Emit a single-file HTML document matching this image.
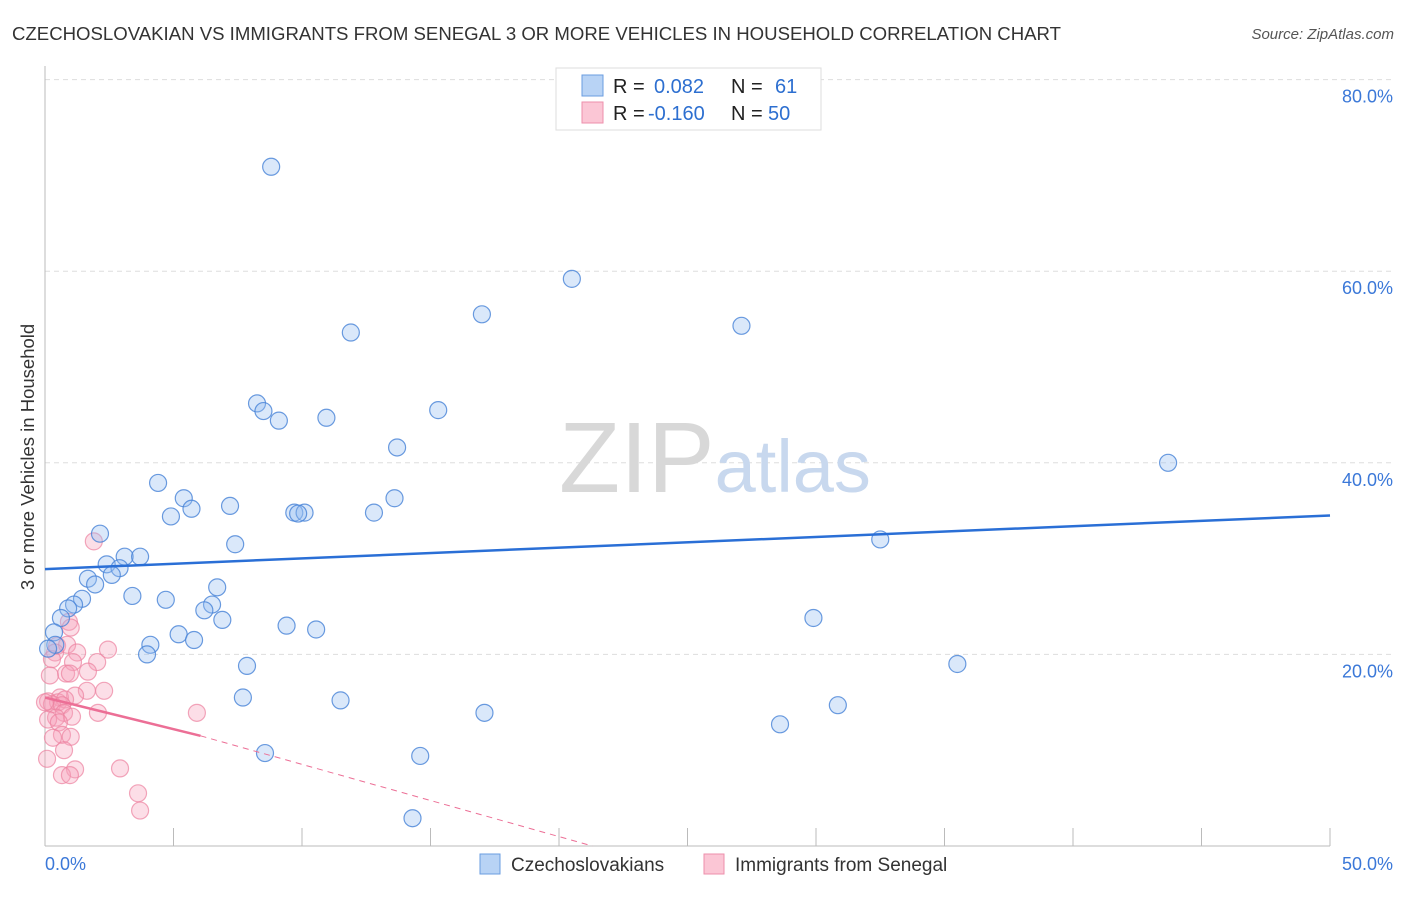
<!DOCTYPE html>
<html><head><meta charset="utf-8"><style>
body{margin:0;background:#fff;font-family:"Liberation Sans",sans-serif;}
svg text{font-family:"Liberation Sans",sans-serif;}
</style></head><body>
<svg id="chart" width="1406" height="892">
<text x="12" y="40" font-size="18.6" fill="#333">CZECHOSLOVAKIAN VS IMMIGRANTS FROM SENEGAL 3 OR MORE VEHICLES IN HOUSEHOLD CORRELATION CHART</text>
<text x="1394" y="39" font-size="15" fill="#555" text-anchor="end" font-style="italic">Source: ZipAtlas.com</text>
<text x="0" y="0" transform="translate(34,457) rotate(-90)" font-size="18.5" fill="#333" text-anchor="middle">3 or more Vehicles in Household</text>
<g id="grid"></g>
<text x="715" y="492" font-size="100" fill="#ddd" text-anchor="middle" font-family="Liberation Serif"><tspan fill="#d8d8d8">ZIP</tspan><tspan fill="#c8d8ee" font-family="Liberation Sans" font-size="74">atlas</tspan></text>
<g id="pts"></g>
<g id="lines"></g>
<g>
<rect x="556" y="68" width="265" height="62" fill="#fff" stroke="#ddd"/>
<rect x="582" y="75" width="21" height="21" fill="#b8d3f5" stroke="#6a9de0"/>
<rect x="582" y="102" width="21" height="21" fill="#fbc6d5" stroke="#ee8fab"/>
<text x="613" y="93" font-size="20" fill="#222">R = <tspan x="654" fill="#2d6fd0">0.082</tspan><tspan x="731" fill="#222">N = </tspan><tspan x="775" fill="#2d6fd0">61</tspan></text>
<text x="613" y="120" font-size="20" fill="#222">R = <tspan x="648" fill="#2d6fd0">-0.160</tspan><tspan x="731" fill="#222">N = </tspan><tspan x="768" fill="#2d6fd0">50</tspan></text>
</g>
<g>
<rect x="480" y="854" width="20" height="20" fill="#b8d3f5" stroke="#6a9de0"/>
<text x="511" y="871" font-size="19" fill="#333">Czechoslovakians</text>
<rect x="704" y="854" width="20" height="20" fill="#fbc6d5" stroke="#ee8fab"/>
<text x="735" y="871" font-size="19" fill="#333">Immigrants from Senegal</text>
</g>
<text x="45" y="870" font-size="18" fill="#3b78d8">0.0%</text>
<text x="1393" y="870" font-size="18" fill="#3b78d8" text-anchor="end">50.0%</text>
</svg>
<script>
const yTicks=[20,40,60,80];
const xTicks=[0,5,10,15,20,25,30,35,40,45,50];
const blueX=[8.8,20.5,17.0,27.1,11.9,8.25,8.5,9.1,10.95,15.3,13.7,43.7,4.4,5.4,5.7,4.9,7.2,9.7,10.1,9.85,12.8,13.6,2.14,7.4,32.5,3.1,3.7,2.4,2.9,2.6,1.67,1.95,3.4,1.44,4.7,1.13,0.9,6.7,6.5,6.2,6.9,0.62,29.9,9.4,10.55,5.2,5.8,4.1,0.35,3.97,0.4,0.12,35.5,7.86,7.7,11.5,30.85,17.1,28.6,8.56,14.6,14.3];
const blueY=[70.9,59.2,55.5,54.3,53.6,46.2,45.4,44.4,44.7,45.5,41.6,40.0,37.9,36.3,35.2,34.4,35.5,34.8,34.8,34.7,34.8,36.3,32.6,31.5,32.0,30.2,30.2,29.4,29.0,28.3,27.9,27.3,26.1,25.8,25.7,25.2,24.8,27.0,25.2,24.6,23.6,23.8,23.8,23.0,22.6,22.1,21.5,21.0,22.3,20.0,21.0,20.6,19.0,18.8,15.5,15.2,14.7,13.9,12.7,9.7,9.4,2.9];
const pinkX=[1.9,0.93,1.0,0.47,0.86,0.39,1.25,2.45,0.27,1.09,2.03,0.82,1.67,0.97,0.19,2.3,1.63,1.17,0.58,0.12,0.51,0.78,0.27,0.66,0,0.74,2.06,0.43,1.05,0.12,0.54,5.91,0.66,1.0,0.31,0.74,0.08,2.92,1.17,0.66,0.97,3.62,3.7];
const pinkY=[31.8,23.4,22.8,20.9,21.0,20.2,20.2,20.5,19.5,19.2,19.2,18.0,18.2,18.0,17.8,16.2,16.2,15.7,15.5,15.1,15.0,15.3,14.8,14.7,15.0,13.9,13.9,13.4,13.5,13.2,12.9,13.9,11.6,11.4,11.3,10.0,9.1,8.1,8.0,7.4,7.4,5.5,3.7];
const blueTrend=[0,28.9,50,34.5];
const pinkTrend=[0,15.5,6.05,11.5,21.3,0];
const ns="http://www.w3.org/2000/svg";
const X=v=>45+v/50*1285, Y=v=>846-v*191.6/20;
function mk(t,a,p){const e=document.createElementNS(ns,t);for(const k in a)e.setAttribute(k,a[k]);p.appendChild(e);return e;}
const grid=document.getElementById('grid');
yTicks.forEach(t=>{
const l=mk('line',{x1:45,x2:1393,y1:Y(t),y2:Y(t),stroke:'#ddd','stroke-dasharray':'5,4'},grid);


const tx=mk('text',{x:1393,y:Y(t)+23,'font-size':18,fill:'#3b78d8','text-anchor':'end'},grid);
tx.textContent=t.toFixed(1)+'%';


});
const ax=mk('line',{x1:45,x2:1330,y1:846,y2:846,stroke:'#bbb'},grid);


const ay=mk('line',{x1:45,x2:45,y1:66,y2:846,stroke:'#bbb'},grid);


xTicks.forEach(t=>{const l=mk('line',{x1:X(t),x2:X(t),y1:828,y2:846,stroke:'#bbb'},grid);

});
const pts=document.getElementById('pts');
pinkX.forEach((v,i)=>{const c=mk('circle',{cx:X(v),cy:Y(pinkY[i]),r:8.5,fill:'rgba(247,160,185,0.35)',stroke:'rgba(236,130,160,0.7)','stroke-width':1.2},pts);

});
blueX.forEach((v,i)=>{const c=mk('circle',{cx:X(v),cy:Y(blueY[i]),r:8.5,fill:'rgba(150,190,240,0.35)',stroke:'rgba(70,130,215,0.8)','stroke-width':1.2},pts);

});
const lines=document.getElementById('lines');
const bl=mk('line',{x1:X(blueTrend[0]),y1:Y(blueTrend[1]),x2:X(blueTrend[2]),y2:Y(blueTrend[3]),stroke:'#2a6fd6','stroke-width':2.5},lines);


const pd=mk('line',{x1:X(pinkTrend[2]),y1:Y(pinkTrend[3]),x2:X(pinkTrend[4]),y2:Y(pinkTrend[5]),stroke:'#ec6f96','stroke-width':1,'stroke-dasharray':'6,5'},lines);


const pl=mk('line',{x1:X(pinkTrend[0]),y1:Y(pinkTrend[1]),x2:X(pinkTrend[2]),y2:Y(pinkTrend[3]),stroke:'#ec6f96','stroke-width':2.5},lines);


</script>
</body></html>
